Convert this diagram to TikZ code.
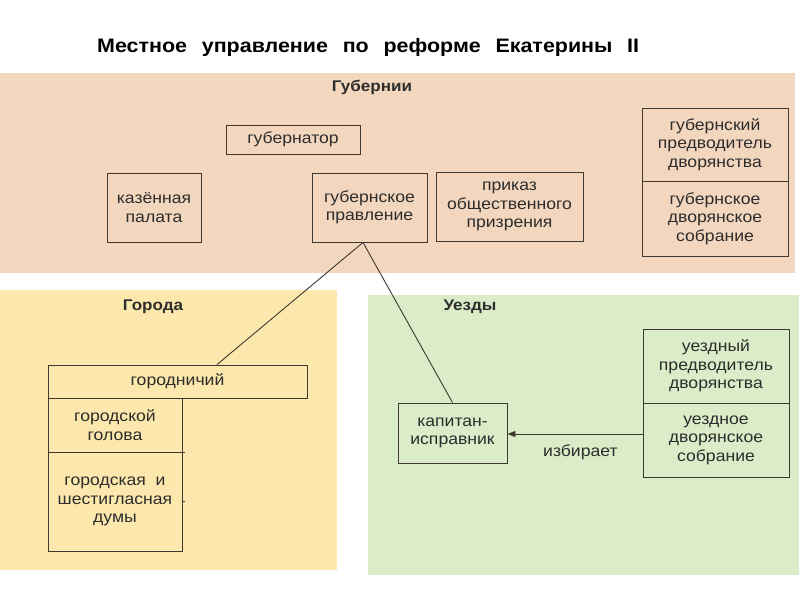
\documentclass[tikz,border=0pt]{standalone}
\usepackage{fontspec}
\setmainfont{Liberation Sans}[FakeStretch=1.1]
\usetikzlibrary{arrows.meta}
\definecolor{peach}{RGB}{243,214,190}
\definecolor{sand}{RGB}{252,232,172}
\definecolor{mint}{RGB}{218,236,200}
\definecolor{ink}{RGB}{62,56,48}
\definecolor{txt}{RGB}{45,45,45}
\begin{document}
\begin{tikzpicture}[x=1pt,y=-1pt,
  box/.style={draw=ink, line width=0.9pt, inner sep=0pt, align=center, text=txt,
    font=\fontsize{16}{18.5}\selectfont},
  bandlabel/.style={font=\bfseries\fontsize{15.5}{18}\selectfont, text=txt, inner sep=0pt},
  conn/.style={draw=ink, line width=0.9pt}]
\useasboundingbox[fill=white] (0,0) rectangle (800,600);
% bands
\fill[peach] (0,73) rectangle (795,273);
\fill[sand] (0,290) rectangle (337,570);
\fill[mint] (368,295) rectangle (799,575);
% title
\node[anchor=base west, inner sep=0pt, text=black,
  font=\bfseries\fontsize{19.5}{22}\selectfont] (title) at (97,52)
  {Местное\hspace{0.45em} управление\hspace{0.45em} по\hspace{0.45em} реформе\hspace{0.45em} Екатерины\hspace{0.45em} II};
\node[bandlabel] (lgub) at (372,87) {Губернии};
\node[bandlabel] (lgor) at (153,307) {Города};
\node[bandlabel] (luez) at (470,307) {Уезды};
% Gubernii
\node[box, minimum width=134, minimum height=29] (gubernator) at (293,139.5) {губернатор};
\node[box, minimum width=94, minimum height=69] (kazen) at (154,207.5) {казённая\\палата};
\node[box, minimum width=115, minimum height=69] (prav) at (369.5,207.5) {губернское\\правление};
\node[box, minimum width=147, minimum height=69] (prikaz) at (509.5,206.5) {приказ\\общественного\\призрения};
\node[box, minimum width=146, minimum height=73] (gpred) at (715,144.5) {губернский\\предводитель\\дворянства};
\node[box, minimum width=146, minimum height=75] (gsobr) at (715,218.5) {губернское\\дворянское\\собрание};
% Goroda
\node[box, minimum width=259, minimum height=33] (gorodn) at (177.5,381.5) {городничий};
\node[box, minimum width=134, minimum height=54] (golova) at (115,425) {городской\\голова};
\node[box, minimum width=134, minimum height=99] (dumy) at (115,501.5) {городская\hspace{0.3em} и\\шестигласная\\думы};
\draw[conn] (golova.south east) -- ++(3,0);
\draw[conn] (dumy.east) -- ++(3,0);
% Uezdy
\node[box, minimum width=109, minimum height=60] (kapitan) at (452.5,433) {капитан-\\исправник};
\node[box, minimum width=146, minimum height=74] (upred) at (716,366) {уездный\\предводитель\\дворянства};
\node[box, minimum width=146, minimum height=74] (usobr) at (716,440) {уездное\\дворянское\\собрание};
% connectors
\draw[conn] ([xshift=-6.5]prav.south) -- ([xshift=39.5]gorodn.north);
\draw[conn] ([xshift=-6.5]prav.south) -- (kapitan.north);
\draw[conn, -{Triangle[length=8pt,width=6pt]}] ([yshift=6]usobr.west) -- ([yshift=-1]kapitan.east)
  node[pos=0.46, yshift=-18, text=txt, inner sep=0pt, font=\fontsize{16}{18}\selectfont] (izb) {избирает};
\end{tikzpicture}
\end{document}
